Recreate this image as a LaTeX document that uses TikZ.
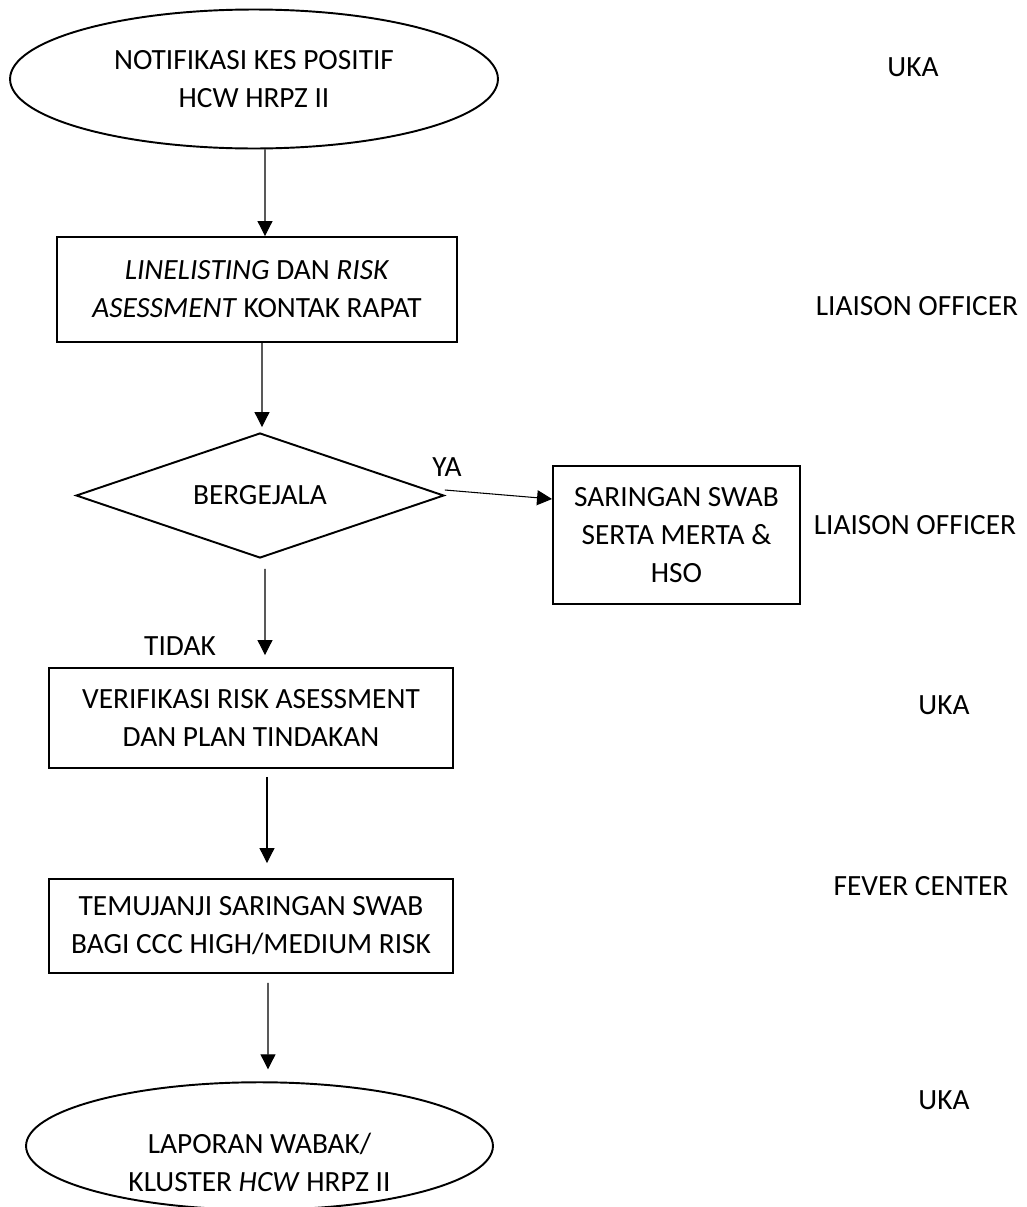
\documentclass[tikz,border=0pt]{standalone}
\usepackage{fontspec}
\setmainfont{Carlito}
\usetikzlibrary{shapes.geometric,arrows.meta}

\begin{document}
\begin{tikzpicture}[x=0.02cm,y=-0.02cm,
        font=\fontsize{16.7}{21.6}\selectfont,
        base/.style={draw,align=center,inner sep=0pt,line width=1.1pt},
        terminal/.style={base,ellipse},
        process/.style={base,rectangle},
        decision/.style={base,diamond,aspect=2.94},
        who/.style={inner sep=0pt},
        arr/.style={-{Triangle[length=0.3cm,width=0.3cm]},line width=0.6pt}]
        \useasboundingbox (0,0) rectangle (1027,1207);

        % Main column
        \node[terminal,minimum width=9.76cm,minimum height=2.78cm] (notif) at (254,79)
            {NOTIFIKASI KES POSITIF\\HCW HRPZ II};
        \node[process,minimum width=8cm,minimum height=2.1cm] (list) at (257,289.5)
            {\textit{LINELISTING} DAN \textit{RISK}\\\textit{ASESSMENT} KONTAK RAPAT};
        \node[decision,minimum width=7.36cm,minimum height=2.5cm] (gejala) at (260,495.5) {BERGEJALA};
        \node[process,minimum width=4.94cm,minimum height=2.76cm] (swab) at (676.5,535)
            {SARINGAN SWAB\\SERTA MERTA \&\\HSO};
        \node[process,minimum width=8.08cm,minimum height=2cm] (verif) at (251,718)
            {VERIFIKASI RISK ASESSMENT\\DAN PLAN TINDAKAN};
        \node[process,minimum width=8.08cm,minimum height=1.88cm] (temu) at (251,926)
            {TEMUJANJI SARINGAN SWAB\\BAGI CCC HIGH/MEDIUM RISK};
        \node[terminal,minimum width=9.34cm,minimum height=2.55cm] (lapor) at (259.5,1146) {};
        \node[who,align=center] (laportxt) at (259.5,1162) {LAPORAN WABAK/\\KLUSTER \textit{HCW} HRPZ II};

        % Branch labels
        \node[who] (ya) at (447,467) {YA};
        \node[who] (tidak) at (180,646) {TIDAK};

        % Who is responsible
        \node[who] (uka1) at (913,67) {UKA};
        \node[who] (lo1) at (917,306) {LIAISON OFFICER};
        \node[who] (lo2) at (915,525) {LIAISON OFFICER};
        \node[who] (uka2) at (944,705) {UKA};
        \node[who] (fever) at (921,886) {FEVER CENTER};
        \node[who] (uka3) at (944,1100) {UKA};

        % Arrows
        \draw[arr] ([xshift=0.22cm]notif.south) -- ([xshift=0.16cm]list.north);
        \draw[arr] ([xshift=0.1cm]list.south) -- ([xshift=0.04cm,yshift=0.1cm]gejala.north);
        \draw[arr] ([yshift=0.11cm]gejala.east) -- ([yshift=0.72cm]swab.west);
        \draw[arr] ([xshift=0.1cm,yshift=-0.2cm]gejala.south) -- ([xshift=0.28cm,yshift=0.24cm]verif.north);
        \draw[arr] ([xshift=0.32cm,yshift=-0.16cm]verif.south) -- ([xshift=0.32cm,yshift=0.3cm]temu.north);
        \draw[arr] ([xshift=0.34cm,yshift=-0.18cm]temu.south) -- ([xshift=0.17cm,yshift=0.24cm]lapor.north);
\end{tikzpicture}
\end{document}
